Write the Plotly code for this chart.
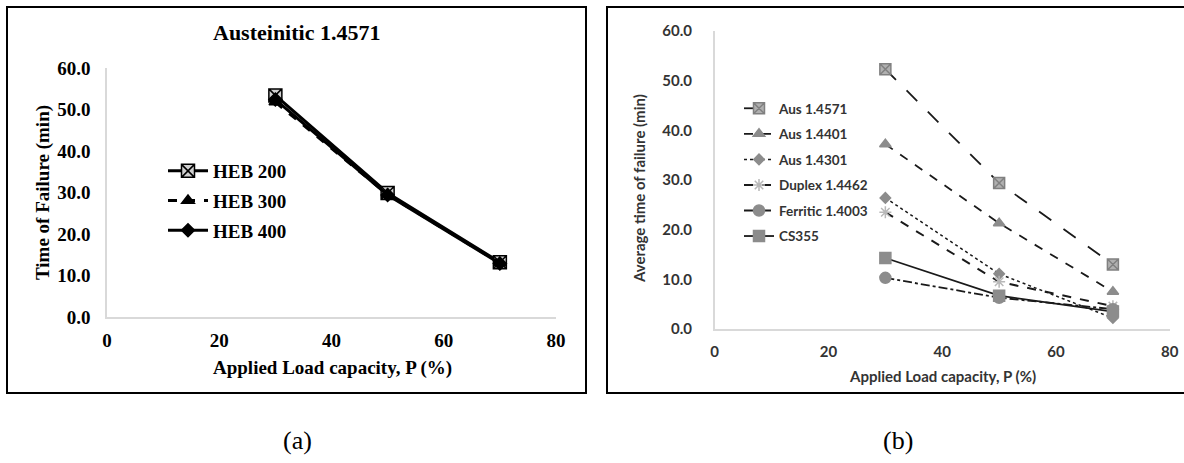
import plotly.graph_objects as go

W, H = 1184, 463

# ---------------- data ----------------
load_pct = [30, 50, 70]

# panel (a) Austeinitic 1.4571
heb_names = ["HEB 200", "HEB 300", "HEB 400"]
heb200 = [53.4, 29.9, 13.2]
heb300 = [51.8, 29.5, 13.0]
heb400 = [52.4, 29.4, 12.9]

# panel (b) average time of failure
grade_names = ["Aus 1.4571", "Aus 1.4401", "Aus 1.4301", "Duplex 1.4462", "Ferritic 1.4003", "CS355"]
aus4571 = [52.3, 29.4, 13.0]
aus4401 = [37.2, 21.3, 7.5]
aus4301 = [26.4, 11.1, 2.2]
duplex4462 = [23.5, 9.5, 4.6]
ferritic4003 = [10.3, 6.3, 4.0]
cs355 = [14.3, 6.7, 3.5]

x_ticks = [0, 20, 40, 60, 80]
y_ticks = [0, 10, 20, 30, 40, 50, 60]


def px_x(p):
    return p / W


def px_y(p):
    return 1 - p / H


SERIF = "Liberation Serif"
SANS = "Lato"

fig = go.Figure()

# ---- panel (a) traces
a_styles = [
    dict(dash="solid", symbol="square-x", color="#d0d0d0", lc="black", size=13),
    dict(dash="dash", symbol="triangle-up", color="black", lc="black", size=11),
    dict(dash="solid", symbol="diamond", color="black", lc="black", size=10),
]
for name, vals, st in zip(heb_names, [heb200, heb300, heb400], a_styles):
    fig.add_trace(go.Scatter(
        x=load_pct, y=vals, name=name, mode="lines+markers",
        xaxis="x", yaxis="y", legend="legend", legendgroup="a_" + name,
        line=dict(color="black", width=3, dash=st["dash"]),
        marker=dict(symbol=st["symbol"], size=st["size"], color=st["color"],
                    line=dict(color=st["lc"], width=1.5)),
    ))

# ---- panel (b) traces
b_styles = [
    dict(dash="longdash", symbol="square-x", color="#b0b0b0", lc="#808080", size=11, w=1.8),
    dict(dash="dash", symbol="triangle-up", color="#8c8c8c", lc="#8c8c8c", size=10, w=1.8),
    dict(dash="dot", symbol="diamond", color="#8c8c8c", lc="#8c8c8c", size=8, w=1.5),
    dict(dash="dash", symbol="asterisk-open", color="#b8b8b8", lc="#b8b8b8", size=10, w=2),
    dict(dash="dashdot", symbol="circle", color="#8c8c8c", lc="#8c8c8c", size=11, w=1.8),
    dict(dash="solid", symbol="square", color="#8c8c8c", lc="#8c8c8c", size=11, w=1.8),
]
for name, vals, st in zip(grade_names,
                          [aus4571, aus4401, aus4301, duplex4462, ferritic4003, cs355],
                          b_styles):
    fig.add_trace(go.Scatter(
        x=load_pct, y=vals, name=name, mode="lines+markers",
        xaxis="x2", yaxis="y2", legend="legend2", legendgroup="b_" + name,
        line=dict(color="#1a1a1a", width=st["w"], dash=st["dash"]),
        marker=dict(symbol=st["symbol"], size=st["size"], color=st["color"],
                    line=dict(color=st["lc"], width=1.5)),
    ))

axis_common = dict(showgrid=False, zeroline=False, showline=True, automargin=False,
                   linecolor="#d9d9d9", linewidth=1.5, ticks="")

a_font = dict(family=SERIF, size=19, color="black", weight="bold")
b_font = dict(family=SANS, size=15, color="#333333", weight="bold")

fig.update_layout(
    width=W, height=H,
    paper_bgcolor="white", plot_bgcolor="white",
    margin=dict(l=0, r=0, t=0, b=0, pad=0, autoexpand=False),
    showlegend=True,
    xaxis=dict(domain=[px_x(107), px_x(556)], range=[0, 80], tickvals=x_ticks,
               anchor="y", tickfont=a_font, ticklabelstandoff=5, **axis_common),
    yaxis=dict(domain=[px_y(317), px_y(68)], range=[0, 60], tickvals=y_ticks,
               tickformat=".1f", anchor="x", tickfont=a_font, ticklabelstandoff=11,
               **axis_common),
    xaxis2=dict(domain=[px_x(714.7), px_x(1169.8)], range=[0, 80], tickvals=x_ticks,
                anchor="y2", tickfont=b_font, ticklabelstandoff=8, **axis_common),
    yaxis2=dict(domain=[px_y(329), px_y(31)], range=[0, 60], tickvals=y_ticks,
                tickformat=".1f", anchor="x2", tickfont=b_font, ticklabelstandoff=18,
                **axis_common),
    legend=dict(x=px_x(163), y=px_y(152), xanchor="left", yanchor="top",
                font=dict(family=SERIF, size=19, color="black", weight="bold"),
                bgcolor="rgba(0,0,0,0)", itemwidth=40, tracegroupgap=2,
                traceorder="grouped"),
    legend2=dict(x=px_x(739), y=px_y(93), xanchor="left", yanchor="top",
                 font=dict(family=SANS, size=13.5, color="#333333", weight="bold"),
                 bgcolor="rgba(0,0,0,0)", itemwidth=30, tracegroupgap=5,
                 traceorder="grouped"),
    shapes=[
        dict(type="rect", xref="paper", yref="paper",
             x0=px_x(7), x1=px_x(586), y0=px_y(393), y1=px_y(7),
             line=dict(color="black", width=2), layer="below"),
        dict(type="rect", xref="paper", yref="paper",
             x0=px_x(607), x1=px_x(1192), y0=px_y(393), y1=px_y(7),
             line=dict(color="black", width=2), layer="below"),
    ],
    annotations=[
        dict(text="Austeinitic 1.4571", x=px_x(296), y=px_y(33), xref="paper", yref="paper",
             xanchor="center", yanchor="middle", showarrow=False,
             font=dict(family=SERIF, size=22, color="black", weight="bold")),
        dict(text="Applied Load capacity, P (%)", x=px_x(332), y=px_y(368), xref="paper",
             yref="paper", xanchor="center", yanchor="middle", showarrow=False,
             font=dict(family=SERIF, size=19, color="black", weight="bold")),
        dict(text="Time of Failure (min)", x=px_x(43), y=px_y(192), xref="paper",
             yref="paper", xanchor="center", yanchor="middle", showarrow=False,
             textangle=-90,
             font=dict(family=SERIF, size=19, color="black", weight="bold")),
        dict(text="Applied Load capacity, P (%)", x=px_x(942), y=px_y(376), xref="paper",
             yref="paper", xanchor="center", yanchor="middle", showarrow=False,
             font=dict(family=SANS, size=15, color="#333333", weight="bold")),
        dict(text="Average time of failure (min)", x=px_x(639), y=px_y(189), xref="paper",
             yref="paper", xanchor="center", yanchor="middle", showarrow=False,
             textangle=-90,
             font=dict(family=SANS, size=15, color="#333333", weight="bold")),
        dict(text="(a)", x=px_x(297), y=px_y(440), xref="paper", yref="paper",
             xanchor="center", yanchor="middle", showarrow=False,
             font=dict(family=SERIF, size=26, color="black")),
        dict(text="(b)", x=px_x(898), y=px_y(440), xref="paper", yref="paper",
             xanchor="center", yanchor="middle", showarrow=False,
             font=dict(family=SERIF, size=26, color="black")),
    ],
)

# remove the browser's default 8px body margin so the figure sits at the page origin
fig.write_html("out.html", config={"displayModeBar": False},
               post_script="document.body.style.margin='0px';")
